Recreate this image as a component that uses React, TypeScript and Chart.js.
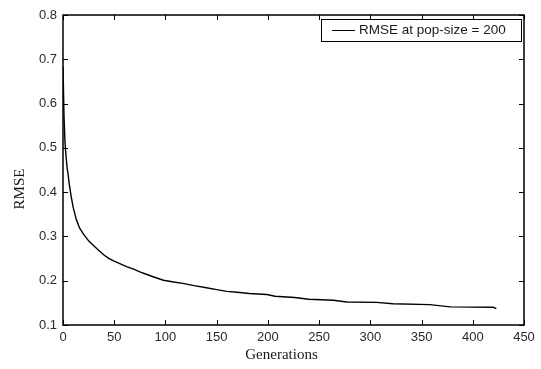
import React, { useEffect, useRef } from "react";
import { Chart, registerables } from "chart.js";

Chart.register(...registerables);

const generations = [0, 1, 2, 3, 4, 5, 6, 8, 10, 13, 16, 20, 25, 30, 35, 40, 45, 50, 56, 62, 69, 75, 82, 88, 98, 108, 117, 128, 140, 150, 160, 170, 182, 199, 207, 226, 240, 264, 277, 306, 322, 358, 378, 420, 423];
const rmseValues = [0.683, 0.57, 0.51, 0.48, 0.455, 0.44, 0.42, 0.39, 0.365, 0.338, 0.32, 0.305, 0.29, 0.279, 0.268, 0.258, 0.25, 0.244, 0.238, 0.232, 0.226, 0.22, 0.214, 0.209, 0.201, 0.197, 0.194, 0.189, 0.184, 0.18, 0.176, 0.174, 0.171, 0.169, 0.165, 0.162, 0.158, 0.156, 0.152, 0.151, 0.148, 0.146, 0.141, 0.14, 0.137];
const seriesLabel = "RMSE at pop-size = 200";
const xTitle = "Generations";
const yTitle = "RMSE";
const xTicks = [0, 50, 100, 150, 200, 250, 300, 350, 400, 450];
const yTicks = [0.1, 0.2, 0.3, 0.4, 0.5, 0.6, 0.7, 0.8];

const frame = {
  id: "frame",
  afterDraw(chart: any) {
    const { ctx, chartArea: a, scales } = chart;
    const xs = scales.x;
    const ys = scales.y;
    ctx.save();
    ctx.strokeStyle = "#000";
    ctx.lineWidth = 1.5;
    ctx.strokeRect(a.left, a.top, a.right - a.left, a.bottom - a.top);
    ctx.lineWidth = 1;
    const tl = 5;
    ctx.beginPath();
    xTicks.forEach((v) => {
      const px = Math.round(xs.getPixelForValue(v)) + 0.5;
      ctx.moveTo(px, a.bottom);
      ctx.lineTo(px, a.bottom - tl);
      ctx.moveTo(px, a.top);
      ctx.lineTo(px, a.top + tl);
    });
    yTicks.forEach((v) => {
      const py = Math.round(ys.getPixelForValue(v)) + 0.5;
      ctx.moveTo(a.left, py);
      ctx.lineTo(a.left + tl, py);
      ctx.moveTo(a.right, py);
      ctx.lineTo(a.right - tl, py);
    });
    ctx.stroke();

    // legend
    const lx = a.right - 203;
    const ly = a.top + 4;
    const lw = 200;
    const lh = 22;
    ctx.fillStyle = "#fff";
    ctx.fillRect(lx, ly, lw, lh);
    ctx.strokeStyle = "#000";
    ctx.lineWidth = 1;
    ctx.strokeRect(lx + 0.5, ly + 0.5, lw, lh);
    const cy = ly + lh / 2 + 0.5;
    ctx.beginPath();
    ctx.moveTo(lx + 11, cy);
    ctx.lineTo(lx + 34, cy);
    ctx.stroke();
    ctx.fillStyle = "#1a1a1a";
    ctx.font = "13.5px 'Liberation Sans', Arial, sans-serif";
    ctx.textBaseline = "middle";
    ctx.textAlign = "left";
    ctx.fillText(seriesLabel, lx + 38, cy);

    // axis titles
    ctx.font = "15px 'Liberation Serif', 'Times New Roman', serif";
    ctx.textAlign = "center";
    ctx.fillText(xTitle, (a.left + a.right) / 2 - 12, a.bottom + 30);
    ctx.save();
    ctx.translate(20, (a.top + a.bottom) / 2 + 19);
    ctx.rotate(-Math.PI / 2);
    ctx.fillText(yTitle, 0, 0);
    ctx.restore();
    ctx.restore();
  },
};

export default function App() {
  const ref = useRef<HTMLCanvasElement>(null);
  useEffect(() => {
    if (!ref.current) return;
    const data = generations.map((g, i) => ({ x: g, y: rmseValues[i] }));
    const tickFont = { family: "'Liberation Sans', Arial, sans-serif", size: 13 };
    const chart = new Chart(ref.current, {
      type: "line",
      data: {
        datasets: [
          {
            label: seriesLabel,
            data,
            borderColor: "#000",
            borderWidth: 1.4,
            pointRadius: 0,
            tension: 0,
            fill: false,
          },
        ],
      },
      options: {
        animation: false,
        responsive: false,
        layout: { padding: { top: 15, right: 17, left: 0, bottom: 0 } },
        plugins: { legend: { display: false }, tooltip: { enabled: false } },
        scales: {
          x: {
            type: "linear",
            min: 0,
            max: 450,
            afterFit: (s: any) => {
              s.height = 44;
            },
            afterBuildTicks: (s: any) => {
              s.ticks = xTicks.map((v) => ({ value: v }));
            },
            grid: { display: false, drawTicks: false },
            border: { display: false },
            ticks: { font: tickFont, color: "#2a2a2a", padding: 5, maxRotation: 0, autoSkip: false },
          },
          y: {
            type: "linear",
            min: 0.1,
            max: 0.8,
            afterFit: (s: any) => {
              s.width = 63;
            },
            afterBuildTicks: (s: any) => {
              s.ticks = yTicks.map((v) => ({ value: v }));
            },
            grid: { display: false, drawTicks: false },
            border: { display: false },
            ticks: {
              font: tickFont,
              color: "#2a2a2a",
              padding: 6,
              autoSkip: false,
              callback: (v: any) => Number(v).toFixed(1),
            },
          },
        },
      },
      plugins: [frame],
    });
    return () => chart.destroy();
  }, []);
  return (
    <div style={{ position: "fixed", left: 0, top: 0, width: 541, height: 369, background: "#fff" }}>
      <canvas ref={ref} width={541} height={369} style={{ display: "block" }} />
    </div>
  );
}
